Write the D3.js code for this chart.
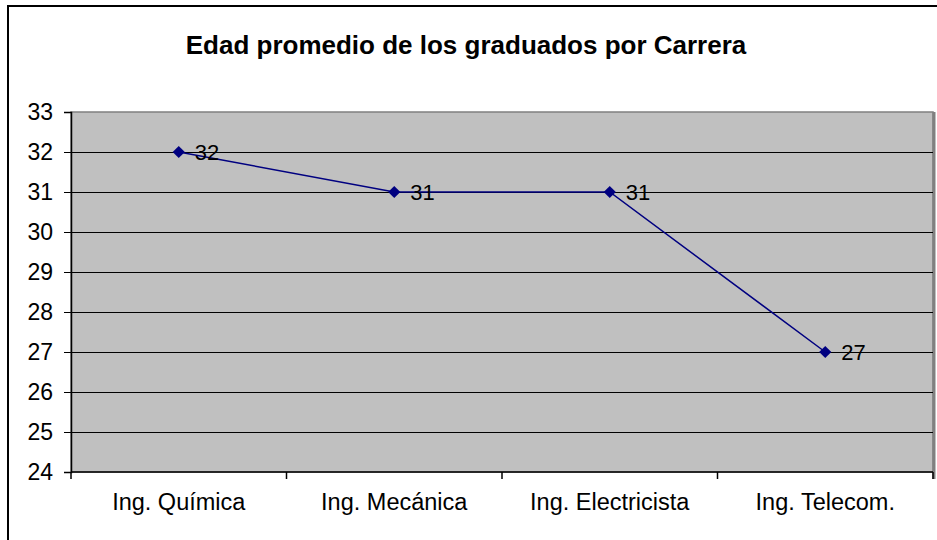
<!DOCTYPE html>
<html>
<head>
<meta charset="utf-8">
<script src="https://cdn.jsdelivr.net/npm/d3@7"></script>
<style>
  body { margin: 0; background: #fff; }
  svg { display: block; font-family: "Liberation Sans", Arial, sans-serif; }
</style>
</head>
<body>
<div id="chart"></div>
<script>
var title = "Edad promedio de los graduados por Carrera"
var carreras = ["Ing. Química", "Ing. Mecánica", "Ing. Electricista", "Ing. Telecom."]
var edades = [32, 31, 31, 27]
var yTicks = [24, 25, 26, 27, 28, 29, 30, 31, 32, 33]

var W = 937, H = 540
var plot = {left: 71, top: 112, right: 933, bottom: 472}

var svg = d3.select("#chart").append("svg")
  .attr("width", W).attr("height", H)

// outer chart border (runs off the right and bottom edges)
svg.append("rect")
  .attr("x", 8).attr("y", 6)
  .attr("width", W + 10).attr("height", H + 10)
  .attr("fill", "#fff").attr("stroke", "#000").attr("stroke-width", 2)

svg.append("text")
  .attr("x", 466).attr("y", 54)
  .attr("text-anchor", "middle")
  .style("font-size", "26px").style("font-weight", "bold")
  .text(title)

var x = d3.scaleBand().domain(carreras).range([plot.left, plot.right])
var y = d3.scaleLinear().domain([24, 33]).range([plot.bottom, plot.top])

// plot area
svg.append("rect")
  .attr("x", plot.left).attr("y", plot.top)
  .attr("width", plot.right - plot.left).attr("height", plot.bottom - plot.top)
  .attr("fill", "#c0c0c0").attr("stroke", "#808080").attr("stroke-width", 1.5)
svg.append("line")
  .attr("x1", plot.right + 1).attr("x2", plot.right + 1)
  .attr("y1", plot.top).attr("y2", plot.bottom + 7)
  .attr("stroke", "#808080").attr("stroke-width", 3)

// gridlines
svg.append("g").selectAll("line").data(yTicks.slice(1, -1)).enter()
  .append("line")
  .attr("x1", plot.left).attr("x2", plot.right)
  .attr("y1", d => Math.round(y(d)) + 0.5).attr("y2", d => Math.round(y(d)) + 0.5)
  .attr("stroke", "#000").attr("stroke-width", 1)

// y axis
var yAxis = svg.append("g")
  .attr("transform", "translate(" + plot.left + ",0)")
  .call(d3.axisLeft(y).tickValues(yTicks).tickSize(7).tickPadding(11).tickFormat(d3.format("d")))
yAxis.select(".domain").attr("stroke", "#000").attr("stroke-width", 1.5)
yAxis.selectAll(".tick line").attr("stroke", "#000")
yAxis.selectAll("text").style("font-size", "23px").attr("fill", "#000")

// x axis
var xAxis = svg.append("g")
  .attr("transform", "translate(0," + plot.bottom + ")")
  .call(d3.axisBottom(x).tickSize(0).tickPadding(21))
xAxis.select(".domain").remove()
xAxis.selectAll("text").style("font-size", "23.5px").attr("fill", "#000")
xAxis.append("line")
  .attr("x1", plot.left).attr("x2", plot.right)
  .attr("stroke", "#000").attr("stroke-width", 1.5)
xAxis.selectAll(".sep").data(carreras.concat(["end"])).enter()
  .append("line").attr("class", "sep")
  .attr("x1", (d, i) => i < carreras.length ? x(d) : plot.right)
  .attr("x2", (d, i) => i < carreras.length ? x(d) : plot.right)
  .attr("y1", 0).attr("y2", 7)
  .attr("stroke", "#000").attr("stroke-width", 1.5)

// series
var cx = d => x(d) + x.bandwidth() / 2
var line = d3.line().x((d, i) => cx(carreras[i])).y(d => y(d))
svg.append("path").datum(edades)
  .attr("d", line)
  .attr("fill", "none").attr("stroke", "#000080").attr("stroke-width", 1.5)

svg.selectAll(".pt").data(edades).enter()
  .append("path").attr("class", "pt")
  .attr("d", d3.symbol(d3.symbolDiamond2, 95))
  .attr("transform", (d, i) => "translate(" + cx(carreras[i]) + "," + y(d) + ")")
  .attr("fill", "#000080")

svg.selectAll(".lbl").data(edades).enter()
  .append("text").attr("class", "lbl")
  .attr("x", (d, i) => cx(carreras[i]) + 16)
  .attr("y", d => y(d) + 8)
  .style("font-size", "22px")
  .text(d => d)
</script>
</body>
</html>
